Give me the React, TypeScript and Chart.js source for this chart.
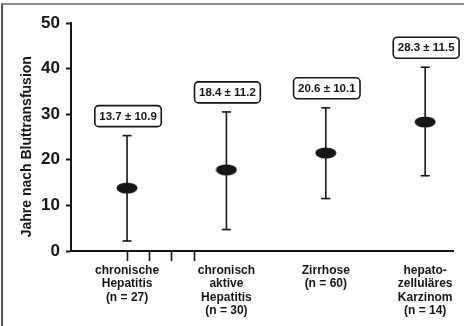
import React, { useEffect, useRef } from "react";
import { Chart, registerables } from "chart.js";

Chart.register(...registerables);

const categories = [1, 2, 3, 4];
const categoryLabels = [
  ["chronische", "Hepatitis", "(n = 27)"],
  ["chronisch", "aktive", "Hepatitis", "(n = 30)"],
  ["Zirrhose", "(n = 60)"],
  ["hepato-", "zelluläres", "Karzinom", "(n = 14)"],
];
const means = [13.8, 17.8, 21.5, 28.3];
const lows = [2.2, 4.7, 11.5, 16.5];
const highs = [25.3, 30.5, 31.4, 40.3];
const boxTexts = ["13.7 ± 10.9", "18.4 ± 11.2", "20.6 ± 10.1", "28.3 ± 11.5"];
const minorTicks = [1.225, 1.45, 1.675];
const yTitle = "Jahre nach Bluttransfusion";

const INK = "#161616";
const FONT = "'Liberation Sans', Arial, sans-serif";

function makeEllipse(): HTMLCanvasElement {
  const c = document.createElement("canvas");
  c.width = 22;
  c.height = 12;
  const g = c.getContext("2d")!;
  g.fillStyle = INK;
  g.beginPath();
  g.ellipse(11, 6, 10.5, 5.6, 0, 0, Math.PI * 2);
  g.fill();
  return c;
}

const boxPlugin = {
  id: "valueBoxes",
  afterDatasetsDraw(chart: any) {
    const { ctx, scales } = chart;
    const xs = scales.x;
    const ys = scales.y;
    ctx.save();
    ctx.font = `bold 11.5px ${FONT}`;
    ctx.textAlign = "center";
    ctx.textBaseline = "middle";
    categories.forEach((c, i) => {
      const x = xs.getPixelForValue(c) + 1;
      const top = ys.getPixelForValue(highs[i]);
      const w = ctx.measureText(boxTexts[i]).width + 9;
      const h = 21;
      const bottom = top - 9;
      ctx.lineWidth = 1.6;
      ctx.strokeStyle = INK;
      ctx.fillStyle = "#ffffff";
      ctx.beginPath();
      (ctx as any).roundRect(x - w / 2, bottom - h, w, h, 4);
      ctx.fill();
      ctx.stroke();
      ctx.fillStyle = INK;
      ctx.fillText(boxTexts[i], x, bottom - h / 2 + 0.5);
    });
    ctx.restore();
  },
};

export default function App() {
  const ref = useRef<HTMLCanvasElement>(null);

  useEffect(() => {
    if (!ref.current) return;
    const ellipse = makeEllipse();
    const barSets = categories.map((c, i) => ({
      type: "scatter" as const,
      data: [
        { x: c, y: lows[i] },
        { x: c, y: highs[i] },
      ],
      showLine: true,
      borderColor: INK,
      borderWidth: 1.6,
      pointStyle: "line" as const,
      pointRadius: 4.5,
      pointBorderWidth: 1.6,
      pointBorderColor: INK,
      order: 2,
    }));
    const chart = new Chart(ref.current, {
      type: "scatter",
      data: {
        datasets: [
          {
            data: categories.map((c, i) => ({ x: c, y: means[i] })),
            pointStyle: ellipse as any,
            pointRadius: 10,
            backgroundColor: INK,
            order: 1,
          },
          ...barSets,
        ] as any,
      },
      plugins: [boxPlugin],
      options: {
        animation: false,
        responsive: false,
        layout: { padding: { top: 23, right: 12, left: 0, bottom: 0 } },
        plugins: {
          legend: { display: false },
          tooltip: { enabled: false },
        },
        scales: {
          x: {
            type: "linear",
            min: 0.436,
            max: 4.28,
            afterBuildTicks: (scale: any) => {
              scale.ticks = [...categories, ...minorTicks]
                .sort((a, b) => a - b)
                .map((v) => ({ value: v }));
            },
            afterFit: (scale: any) => {
              scale.height = 75;
            },
            grid: {
              drawOnChartArea: false,
              drawTicks: true,
              tickLength: 10,
              tickWidth: 1.6,
              tickColor: (ctx: any) =>
                ctx.tick && (ctx.tick.value === 1 || minorTicks.includes(ctx.tick.value))
                  ? INK
                  : "rgba(0,0,0,0)",
            },
            border: { display: true, color: INK, width: 2 },
            ticks: {
              autoSkip: false,
              maxRotation: 0,
              padding: 3,
              color: INK,
              font: { family: FONT, size: 12, weight: "bold", lineHeight: 1.12 },
              callback: (v: any) => {
                const i = categories.indexOf(Number(v));
                return i >= 0 ? categoryLabels[i] : "";
              },
            },
          },
          y: {
            min: 0,
            max: 50,
            afterFit: (scale: any) => {
              scale.width = 71;
            },
            grid: {
              drawOnChartArea: false,
              tickLength: 5,
              tickWidth: 2,
              tickColor: INK,
            },
            border: { display: true, color: INK, width: 2 },
            ticks: {
              stepSize: 10,
              padding: 6,
              color: INK,
              font: { family: FONT, size: 17, weight: "bold" },
            },
            title: {
              display: true,
              text: yTitle + "     ",
              color: INK,
              padding: { top: 19, bottom: 0 },
              font: { family: FONT, size: 14, weight: "bold" },
            },
          },
        },
      } as any,
    });
    return () => chart.destroy();
  }, []);

  return (
    <div
      style={{
        position: "absolute",
        left: 0,
        top: 0,
        width: 465,
        height: 326,
        background: "#fff",
        overflow: "hidden",
      }}
    >
      <div
        style={{
          position: "absolute",
          left: 1,
          top: 3,
          width: 463,
          height: 330,
          borderTop: "2px solid #8c8c8c",
          borderLeft: "2px solid #555",
          boxSizing: "border-box",
        }}
      />
      <canvas
        ref={ref}
        width={465}
        height={326}
        style={{ position: "absolute", left: 0, top: 0 }}
      />
    </div>
  );
}
